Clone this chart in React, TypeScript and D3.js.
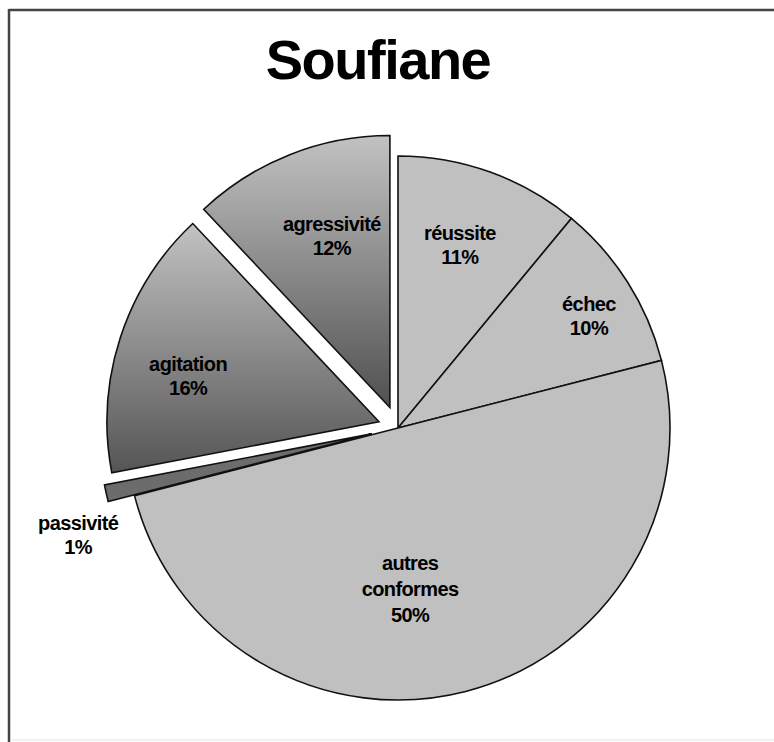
import React from "react";
import * as d3 from "d3";

const categories = ["réussite", "échec", "autres conformes", "passivité", "agitation", "agressivité"];
const labelLines = [["réussite"], ["échec"], ["autres", "conformes"], ["passivité"], ["agitation"], ["agressivité"]];
const values = [11, 10, 50, 1, 16, 12];
const percentLabels = ["11%", "10%", "50%", "1%", "16%", "12%"];
const title = "Soufiane";

// layout / style (not data)
const W = 774;
const H = 742;
const CX = 398;
const CY = 428;
const R = 272;
const explode = [0, 0, 0, 27, 20, 22];
const fills = ["#c0c0c0", "#c0c0c0", "#c0c0c0", "#6c6c6c", "url(#gradAgit)", "url(#gradAgr)"];
const labelPolar: [number, number][] = [
  [18.7, 0.71],
  [59.6, 0.814],
  [175.7, 0.593],
  [251.5, 1.24],
  [283.9, 0.795],
  [341.0, 0.746],
];

export default function App() {
  const pie = d3.pie<number>().sort(null).value((d) => d)(values);
  const arc = d3.arc<d3.PieArcDatum<number>>().innerRadius(0).outerRadius(R);
  const font = "'Liberation Sans', Arial, sans-serif";

  return (
    <svg width={W} height={H} style={{ position: "absolute", left: 0, top: 0 }}>
      <defs>
        <linearGradient id="gradAgit" x1="0" y1="0" x2="0" y2="1">
          <stop offset="0" stopColor="#c2c2c2" />
          <stop offset="1" stopColor="#555555" />
        </linearGradient>
        <linearGradient id="gradAgr" x1="0" y1="0" x2="0" y2="1">
          <stop offset="0" stopColor="#c2c2c2" />
          <stop offset="1" stopColor="#505050" />
        </linearGradient>
      </defs>
      <rect x={0} y={0} width={W} height={H} fill="#fff" />
      <line x1={9} y1={10} x2={W} y2={10} stroke="#444" strokeWidth={2.5} />
      <line x1={9} y1={9} x2={9} y2={H} stroke="#444" strokeWidth={2.5} />
      <line x1={10} y1={740} x2={W} y2={740} stroke="#e4e4e4" strokeWidth={1} />
      <text
        x={378}
        y={79}
        textAnchor="middle"
        fontFamily={font}
        fontWeight="bold"
        fontSize={56}
        letterSpacing={-1.5}
        fill="#000"
      >
        {title}
      </text>
      <g>
        {pie.map((p, i) => {
          const mid = (p.startAngle + p.endAngle) / 2;
          const dx = Math.sin(mid) * explode[i];
          const dy = -Math.cos(mid) * explode[i];
          return (
            <path
              key={categories[i]}
              d={arc(p) || ""}
              transform={`translate(${CX + dx},${CY + dy})`}
              fill={fills[i]}
              stroke="#111"
              strokeWidth={1.6}
              strokeLinejoin="miter"
            />
          );
        })}
      </g>
      <g fontFamily={font} fontWeight="bold" fontSize={20} letterSpacing={-0.6} fill="#000" textAnchor="middle">
        {pie.map((p, i) => {
          const [deg, fr] = labelPolar[i];
          const a = (deg * Math.PI) / 180;
          const lx = CX + Math.sin(a) * R * fr;
          const ly = CY - Math.cos(a) * R * fr;
          const lines = [...labelLines[i], percentLabels[i]];
          const gap = lines.length > 2 ? 26 : 24;
          return (
            <text key={categories[i]} x={lx} y={ly}>
              {lines.map((ln, j) => (
                <tspan key={j} x={lx} y={ly + (j - (lines.length - 1) / 2) * gap} dy="0.35em">
                  {ln}
                </tspan>
              ))}
            </text>
          );
        })}
      </g>
    </svg>
  );
}
